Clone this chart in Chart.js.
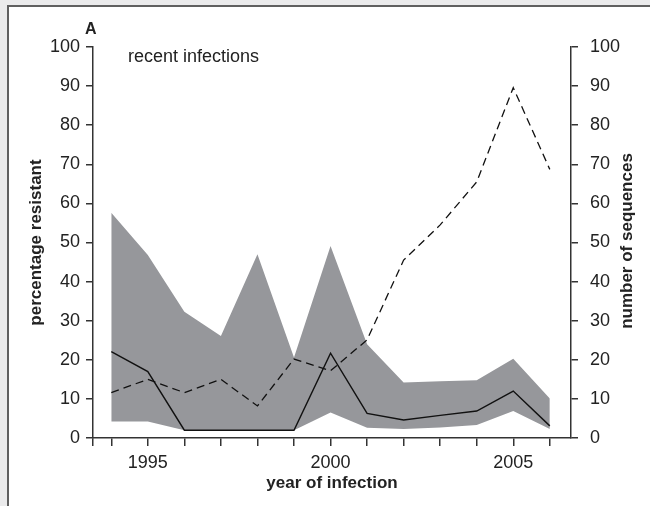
<!DOCTYPE html>
<html>
<head>
<meta charset="utf-8">
<script src="https://cdn.jsdelivr.net/npm/chart.js@4.4.1/dist/chart.umd.min.js"></script>
<style>
  html, body { margin: 0; padding: 0; width: 650px; height: 506px; overflow: hidden; background: #ebebec; font-family: "Liberation Sans", Arial, sans-serif; }
  #panel { position: absolute; left: 7px; top: 5px; width: 700px; height: 600px; background: #fff; border-left: 2px solid #606060; border-top: 2px solid #606060; }
  #wrap { position: absolute; left: 0; top: 0; width: 650px; height: 506px; }
  .lbl { position: absolute; color: #222; white-space: nowrap; }
  #rtitle { left: 527px; top: 231px; width: 200px; height: 20px; line-height: 20px; text-align: center;
            font-size: 17px; font-weight: bold; transform: rotate(-90deg); transform-origin: 50% 50%; }
</style>
</head>
<body>
<div id="panel"></div>
<div id="wrap"><canvas id="chart" width="650" height="506"></canvas></div>
<div class="lbl" style="left:85px; top:21px; font-size:16px; line-height:16px; font-weight:bold;">A</div>
<div class="lbl" style="left:128px; top:47px; font-size:18px; line-height:18px;">recent infections</div>
<div class="lbl" id="rtitle">number of sequences</div>
<script>
const years = [1994, 1995, 1996, 1997, 1998, 1999, 2000, 2001, 2002, 2003, 2004, 2005, 2006];
const pctResistant = [22.1, 17.0, 2.0, 2.0, 2.0, 2.0, 21.7, 6.3, 4.6, 5.8, 6.9, 12.0, 3.1];
const ciUpper = [57.6, 46.8, 32.3, 26.1, 47.0, 20.6, 49.1, 24.0, 14.2, 14.5, 14.8, 20.3, 10.1];
const ciLower = [4.2, 4.2, 2.0, 2.0, 2.0, 2.0, 6.5, 2.6, 2.3, 2.7, 3.3, 6.9, 2.3];
const nSequences = [11.6, 15.0, 11.6, 15.0, 8.2, 20.2, 17.2, 25.1, 45.5, 54.5, 65.5, 89.6, 68.7];
const yTicks = [0, 10, 20, 30, 40, 50, 60, 70, 80, 90, 100];
const xTickLabels = [1995, 2000, 2005];

const fam = '"Liberation Sans", Arial, sans-serif';
Chart.defaults.font.family = fam;
Chart.defaults.color = '#222';

const toXY = arr => arr.map((v, i) => ({ x: years[i], y: v }));

const ctx = document.getElementById('chart').getContext('2d');

new Chart(ctx, {
  type: 'line',
  data: {
    datasets: [
      { label: 'percentage resistant', data: toXY(pctResistant), yAxisID: 'y',
        borderColor: '#111', borderWidth: 1.4, pointRadius: 0, tension: 0, fill: false },
      { label: 'number of sequences', data: toXY(nSequences), yAxisID: 'y1',
        borderColor: '#111', borderWidth: 1.3, borderDash: [8, 5], pointRadius: 0, tension: 0, fill: false },
      { label: 'lower', data: toXY(ciLower), yAxisID: 'y',
        borderColor: 'rgba(0,0,0,0)', borderWidth: 1, pointRadius: 0, tension: 0, fill: false },
      { label: 'upper', data: toXY(ciUpper), yAxisID: 'y',
        borderColor: 'rgba(0,0,0,0)', borderWidth: 1, pointRadius: 0, tension: 0,
        fill: 2, backgroundColor: '#96979b' }
    ]
  },
  options: {
    responsive: false,
    animation: false,
    layout: { padding: { top: 47, left: 0, right: 0, bottom: 0 } },
    plugins: { legend: { display: false }, tooltip: { enabled: false } },
    scales: {
      x: {
        type: 'linear', min: 1993.5, max: 2006.58,
        afterBuildTicks: s => { s.ticks = [1993.5, ...years].map(v => ({ value: v })); },
        afterFit: s => { s.height = 68; },
        ticks: { autoSkip: false, maxRotation: 0, padding: 6, font: { size: 18 },
          callback: v => xTickLabels.includes(v) ? String(v) : '' },
        grid: { drawOnChartArea: false, drawTicks: true, tickLength: 8, color: '#333', lineWidth: 1.5 },
        border: { color: '#333', width: 1.5 },
        title: { display: true, text: 'year of infection', font: { size: 17, weight: 'bold' },
          padding: { top: 0, bottom: 12 } }
      },
      y: {
        position: 'left', min: 0, max: 100,
        afterBuildTicks: s => { s.ticks = yTicks.map(v => ({ value: v })); },
        afterFit: s => { s.width = 93; },
        ticks: { padding: 6, font: { size: 18 } },
        grid: { drawOnChartArea: false, drawTicks: true, tickLength: 7, color: '#333', lineWidth: 1.5 },
        border: { color: '#333', width: 1.5 },
        title: { display: true, text: 'percentage resistant', font: { size: 17, weight: 'bold' },
          padding: { top: 26, bottom: 0 } }
      },
      y1: {
        position: 'right', min: 0, max: 100,
        afterBuildTicks: s => { s.ticks = yTicks.map(v => ({ value: v })); },
        afterFit: s => { s.width = 79; },
        ticks: { padding: 12, font: { size: 18 } },
        grid: { drawOnChartArea: false, drawTicks: true, tickLength: 7, color: '#333', lineWidth: 1.5 },
        border: { color: '#333', width: 1.5 },
        // title drawn as rotated text in #rtitle so it reads bottom-to-top like the left one
        title: { display: false }
      }
    }
  }
});
</script>
</body>
</html>
